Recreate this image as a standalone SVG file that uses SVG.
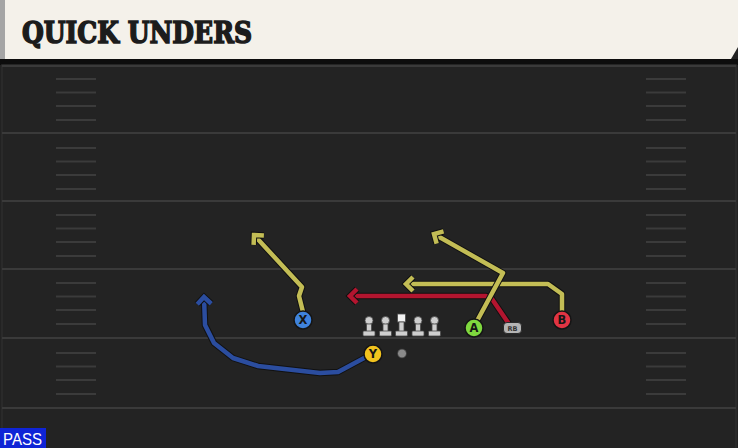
<svg xmlns="http://www.w3.org/2000/svg" xmlns:xlink="http://www.w3.org/1999/xlink" width="738" height="448" viewBox="0 0 738 448">
<style>
.yard{stroke:#3a3a3a;stroke-width:2}
.hash{stroke:#3b3b3b;stroke-width:2}
.ol{fill:none;stroke:#111;stroke-width:6.5;stroke-linejoin:round}
.rt{fill:none;stroke-width:4.5;stroke-linejoin:round}
.yel{stroke:#c3bd55}
.red{stroke:#b3152f}
.blu{stroke:#2b4d9f}
.ptxt{font-family:"DejaVu Sans","Liberation Sans",sans-serif;font-weight:bold;font-size:11.5px;fill:#161616;text-anchor:middle}
.pc{stroke:#151515;stroke-width:1.5}
.fig{fill:#cfcfcf;stroke:#4a4a4a;stroke-width:0.8}
</style>
<defs>
<marker id="aY" markerUnits="userSpaceOnUse" viewBox="-12 -10 16 20" refX="0" refY="0" markerWidth="16" markerHeight="20" orient="auto" overflow="visible">
<path d="M-7,-7 L0,0 L-7,7" fill="none" stroke="#111" stroke-width="6.5" stroke-linejoin="miter"/>
<path d="M-7,-7 L0,0 L-7,7" fill="none" stroke="#c3bd55" stroke-width="4.5" stroke-linejoin="miter"/>
</marker>
<marker id="aR" markerUnits="userSpaceOnUse" viewBox="-12 -10 16 20" refX="0" refY="0" markerWidth="16" markerHeight="20" orient="auto" overflow="visible">
<path d="M-7,-7 L0,0 L-7,7" fill="none" stroke="#111" stroke-width="6.5" stroke-linejoin="miter"/>
<path d="M-7,-7 L0,0 L-7,7" fill="none" stroke="#b3152f" stroke-width="4.5" stroke-linejoin="miter"/>
</marker>
<marker id="aB" markerUnits="userSpaceOnUse" viewBox="-12 -10 16 20" refX="0" refY="0" markerWidth="16" markerHeight="20" orient="auto" overflow="visible">
<path d="M-7,-7 L0,0 L-7,7" fill="none" stroke="#111" stroke-width="6.5" stroke-linejoin="miter"/>
<path d="M-7,-7 L0,0 L-7,7" fill="none" stroke="#2b4d9f" stroke-width="4.5" stroke-linejoin="miter"/>
</marker>
<g id="lineman">
<circle cx="0" cy="-10.5" r="4" class="fig"/>
<rect x="-2.5" y="-7" width="5" height="8" class="fig"/>
<rect x="-6" y="0" width="12" height="5" rx="1" class="fig"/>
</g>
<g id="hashset" class="hash">
<line x1="56" y1="0" x2="96" y2="0"/><line x1="56" y1="13.5" x2="96" y2="13.5"/><line x1="56" y1="27" x2="96" y2="27"/><line x1="56" y1="41" x2="96" y2="41"/>
<line x1="646" y1="0" x2="686" y2="0"/><line x1="646" y1="13.5" x2="686" y2="13.5"/><line x1="646" y1="27" x2="686" y2="27"/><line x1="646" y1="41" x2="686" y2="41"/>
</g>
<path id="rX" d="M303,312 L299,296 L302,287 L254,235"/>
<path id="rA" d="M477,321 L503,273 L434,234"/>
<path id="rB" d="M562,312 L562,294 L548,284 L406,284"/>
<path id="rR" d="M509,324 L492,299 L486,296 L350,296"/>
<path id="rY" d="M366,357 L338,372 L320,373 L258,366 L233,358 L214,343 L205,325 L204,297"/>
</defs>

<g id="field">
<rect x="0" y="0" width="738" height="448" fill="#222222"/>
<rect x="0" y="59" width="738" height="6" fill="#0d0d0d"/>
<rect x="2" y="65" width="734" height="385" fill="#232323" stroke="#2e2e2e" stroke-width="1.5"/>
<line class="yard" x1="2" y1="66" x2="736" y2="66"/>
<line class="yard" x1="2" y1="133" x2="736" y2="133"/>
<line class="yard" x1="2" y1="201" x2="736" y2="201"/>
<line class="yard" x1="2" y1="269" x2="736" y2="269"/>
<line class="yard" x1="2" y1="338" x2="736" y2="338"/>
<line class="yard" x1="2" y1="408" x2="736" y2="408"/>
<use xlink:href="#hashset" y="79"/>
<use xlink:href="#hashset" y="148"/>
<use xlink:href="#hashset" y="215"/>
<use xlink:href="#hashset" y="283"/>
<use xlink:href="#hashset" y="353"/>
</g>

<g id="header">
<polygon points="0,0 738,0 738,47 731,59 0,59" fill="#f4f1ea"/>
<rect x="0" y="0" width="5" height="59" fill="#a5a5a5"/>
<text x="22" y="43" font-family="'DejaVu Serif','Liberation Serif',serif" font-weight="bold" font-size="29.5" fill="#1c1c1c" stroke="#1c1c1c" stroke-width="1.6" stroke-linejoin="miter" textLength="230" lengthAdjust="spacingAndGlyphs">QUICK UNDERS</text>
</g>

<g id="connectors">
<use xlink:href="#rX" class="ol"/><use xlink:href="#rX" class="rt yel" marker-end="url(#aY)"/>
<use xlink:href="#rB" class="ol"/><use xlink:href="#rB" class="rt yel" marker-end="url(#aY)"/>
<use xlink:href="#rR" class="ol"/><use xlink:href="#rR" class="rt red" marker-end="url(#aR)"/>
<use xlink:href="#rA" class="ol"/><use xlink:href="#rA" class="rt yel" marker-end="url(#aY)"/>
<use xlink:href="#rY" class="ol"/><use xlink:href="#rY" class="rt blu" marker-end="url(#aB)"/>
</g>

<g id="oline">
<use xlink:href="#lineman" x="369" y="331"/>
<use xlink:href="#lineman" x="385.5" y="331"/>
<g transform="translate(401.5,331)">
<rect x="-4" y="-17" width="8" height="8" fill="#f2f2f2" stroke="#4a4a4a" stroke-width="0.8"/>
<rect x="-2.5" y="-9" width="5" height="10" class="fig"/>
<rect x="-6" y="0" width="12" height="5" rx="1" class="fig"/>
</g>
<use xlink:href="#lineman" x="418" y="331"/>
<use xlink:href="#lineman" x="434.5" y="331"/>
</g>
<g id="qb"><circle cx="402" cy="353.5" r="4.5" fill="#8a8a8a" stroke="#333" stroke-width="0.8"/></g>

<g id="X"><circle cx="303" cy="320" r="9" fill="#3f83dc" class="pc"/><text x="303" y="324.2" class="ptxt">X</text></g>
<g id="Y"><circle cx="373" cy="354" r="9" fill="#f2c31e" class="pc"/><text x="373" y="358.2" class="ptxt">Y</text></g>
<g id="A"><circle cx="474" cy="328" r="9" fill="#7fd83f" class="pc"/><text x="474" y="332.2" class="ptxt">A</text></g>
<g id="B"><circle cx="562" cy="320" r="9" fill="#e23443" class="pc"/><text x="562" y="324.2" class="ptxt">B</text></g>
<g id="RB"><rect x="503.5" y="322.5" width="18" height="11" rx="3.5" fill="#b4b4b4" stroke="#2a2a2a" stroke-width="1"/><text x="512.5" y="330.5" font-family="'DejaVu Sans',sans-serif" font-size="6.5" font-weight="bold" fill="#333" text-anchor="middle">RB</text></g>

<g id="pass">
<rect x="0" y="428" width="46" height="20" fill="#0f24d6"/>
<text x="3" y="445" font-family="'Liberation Sans','DejaVu Sans',sans-serif" font-size="17" fill="#ffffff" textLength="39" lengthAdjust="spacingAndGlyphs">PASS</text>
</g>
</svg>
